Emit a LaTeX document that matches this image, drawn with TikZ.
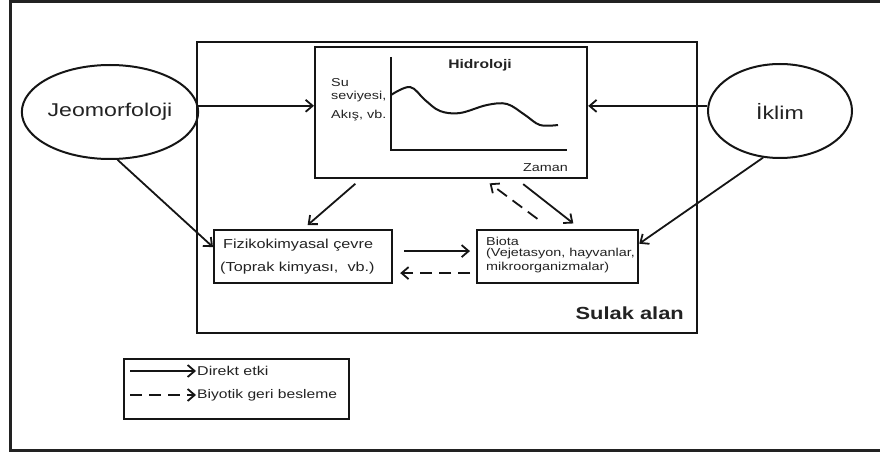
\documentclass[tikz,border=0pt]{standalone}
\usepackage{fontspec}
\setmainfont{Liberation Sans}[FakeStretch=1.25]
\usetikzlibrary{arrows.meta,shapes.geometric,calc}
\definecolor{lc}{HTML}{151515}
\definecolor{tc}{HTML}{222222}
\definecolor{fc}{HTML}{222222}
\begin{document}
\begin{tikzpicture}[x=1pt,y=-1pt,
  box/.style={draw=lc, line width=2.2pt, inner sep=0pt, anchor=north west},
  ell/.style={draw=lc, ellipse, line width=2pt, inner sep=0pt, minimum width=144, minimum height=94, text=tc, font=\fontsize{18.5}{20}\selectfont},
  txt/.style={inner sep=0pt, anchor=west, text=tc},
  arr/.style={draw=lc, line width=1.8pt, -{Straight Barb[length=7pt,width=12pt]}},
  darr/.style={arr, dash pattern=on 12pt off 7pt}]
\useasboundingbox (0,0) rectangle (880,454);
% outer frame (open at the right)
\draw[fc, line width=3pt] (880,1.5) -- (10,1.5) -- (10,450.5) -- (880,450.5);
% boxes
\node[box, minimum width=500, minimum height=291] (sulak) at (196,41) {};
\node[box, minimum width=272, minimum height=131] (hidro) at (314,46) {};
\node[box, minimum width=178, minimum height=53] (fiz) at (213,229) {};
\node[box, minimum width=161, minimum height=53] (biota) at (476,229) {};
\node[box, minimum width=225, minimum height=60] (leg) at (123,358) {};
% ellipses
\node[ell] (jeo) at (110,112) {Jeomorfoloji};
\node[ell] (iklim) at (780,111) {İklim};
% hydrology chart
\draw[lc, line width=2pt] (391,57) -- (391,150) -- (567,150);
\draw[lc, line width=2pt] plot[smooth, tension=0.6] coordinates {(391,95) (410,87) (425,100) (440,111) (460,113) (487,105) (507,104) (525,115) (540,125) (558,125)};
\node[txt, anchor=center, font=\bfseries\fontsize{12.5}{14}\selectfont] (hidt) at (480,65) {Hidroloji};
\node[txt, font=\fontsize{11.5}{13}\selectfont] (su1) at (331,83) {Su};
\node[txt, font=\fontsize{11.5}{13}\selectfont] (su2) at (331,97) {seviyesi,};
\node[txt, font=\fontsize{11.5}{13}\selectfont] (su3) at (331,116) {Akış, vb.};
\node[txt, font=\fontsize{11.5}{13}\selectfont] (zam) at (523,168) {Zaman};
% box texts
\node[txt, font=\fontsize{13}{14}\selectfont] (f1) at (223,245) {Fizikokimyasal çevre};
\node[txt, font=\fontsize{13}{14}\selectfont] (f2) at (220,268) {(Toprak kimyası,\ \ vb.)};
\node[txt, font=\fontsize{11.5}{13}\selectfont] (b1) at (486,241) {Biota};
\node[txt, font=\fontsize{11.5}{13}\selectfont] (b2) at (486,254) {(Vejetasyon, hayvanlar,};
\node[txt, font=\fontsize{11.5}{13}\selectfont] (b3) at (486,268) {mikroorganizmalar)};
\node[txt, anchor=east, font=\bfseries\fontsize{17.5}{20}\selectfont] (sl) at (684,313) {Sulak alan};
% connectors
\draw[arr] (jeo.4) -- (jeo.4 -| hidro.west);
\draw[arr] (iklim.176) -- (iklim.176 -| hidro.east);
\draw[arr] (jeo.-81) -- (fiz.174);
\draw[arr] (iklim.-110) -- (biota.9);
\draw[arr, shorten <=7pt, shorten >=6pt] ($(hidro.south west)!0.17!(hidro.south east)$) -- ($(fiz.north west)!0.50!(fiz.north east)$);
\draw[darr, shorten <=17pt, shorten >=7pt] ($(biota.north west)!0.46!(biota.north east)$) -- ($(hidro.south west)!0.62!(hidro.south east)$);
\draw[arr, shorten <=8pt, shorten >=9pt] ($(hidro.south west)!0.74!(hidro.south east)$) -- ($(biota.north west)!0.64!(biota.north east)$);
\coordinate (fa) at ($(fiz.east)+(0,-5.5)$);
\coordinate (fb) at ($(fiz.east)+(0,16.5)$);
\draw[arr, shorten <=11pt, shorten >=6pt] (fa) -- (fa -| biota.west);
\draw[darr, shorten <=6pt, shorten >=7pt] (fb -| biota.west) -- (fb);
% legend
\coordinate (l1a) at (130,371);
\coordinate (l1b) at (196,371);
\coordinate (l2a) at (130,395);
\coordinate (l2b) at (196,395);
\draw[arr] (l1a) -- (l1b);
\draw[darr] (l2a) -- (l2b);
\node[txt, font=\fontsize{12.8}{14}\selectfont] (lt1) at (197,371) {Direkt etki};
\node[txt, font=\fontsize{12.5}{14}\selectfont] (lt2) at (197,395) {Biyotik geri besleme};
\end{tikzpicture}
\end{document}
